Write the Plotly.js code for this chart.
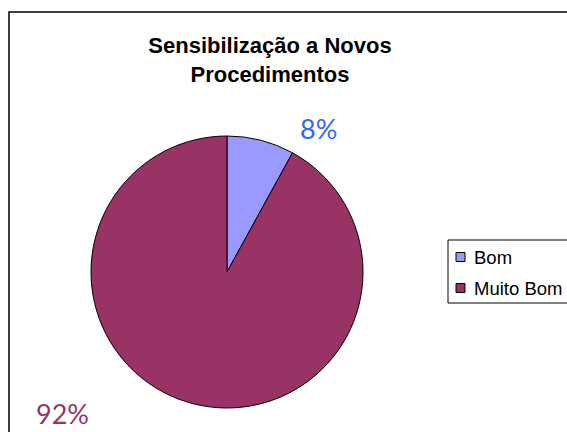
<!DOCTYPE html>
<html>
<head>
<meta charset="utf-8">
<script src="https://cdn.plot.ly/plotly-3.0.1.min.js"></script>
<style>html,body{margin:0;padding:0;background:#fff;}</style>
</head>
<body>
<div id="chart" style="width:567px;height:432px;"></div>
<script>
const categories = ["Bom", "Muito Bom"];
const values = [8, 92];
const sliceColors = ["#9999FF", "#993366"];
const labelColors = ["#3366FF", "#993366"];

const W = 567, H = 432;
const total = values.reduce((a, b) => a + b, 0);
const pctText = values.map(v => Math.round(v / total * 100) + "%");

const trace = {
  type: "pie",
  labels: categories,
  values: values,
  sort: false,
  direction: "clockwise",
  rotation: 0,
  textinfo: "none",
  hoverinfo: "label+percent",
  marker: { colors: sliceColors, line: { color: "#000000", width: 1 } },
  domain: { x: [91 / W, 363 / W], y: [(H - 408) / H, (H - 136) / H] },
  showlegend: false
};

const px = (x) => x / W;
const py = (y) => 1 - y / H;

// percentage labels
const labelPos = [[318, 128], [62, 413]];
const annotations = pctText.map((t, i) => ({
  text: t,
  xref: "paper", yref: "paper",
  x: px(labelPos[i][0]), y: py(labelPos[i][1]),
  xanchor: "center", yanchor: "middle",
  showarrow: false,
  font: { family: "Lato, 'Open Sans', sans-serif", size: 27, color: labelColors[i] }
}));

// hand-built legend (matches the Excel-style legend box)
const legendTop = 240, legendBottom = 303, legendLeft = 448;
const rowY = [257, 288];
const shapes = [
  {
    type: "rect", xref: "paper", yref: "paper",
    x0: px(9), x1: 1.05, y0: -0.05, y1: py(12),
    line: { color: "#000000", width: 1.5 }, fillcolor: "rgba(0,0,0,0)", layer: "above"
  },
  {
    type: "rect", xref: "paper", yref: "paper",
    x0: px(legendLeft), x1: 1.05, y0: py(legendBottom), y1: py(legendTop),
    line: { color: "#000000", width: 1 }, fillcolor: "#ffffff", layer: "above"
  }
];
categories.forEach((c, i) => {
  shapes.push({
    type: "rect", xref: "paper", yref: "paper",
    x0: px(456), x1: px(465), y0: py(rowY[i] + 4.5), y1: py(rowY[i] - 4.5),
    line: { color: "#000000", width: 1 }, fillcolor: sliceColors[i], layer: "above"
  });
  annotations.push({
    text: c,
    xref: "paper", yref: "paper",
    x: px(472), y: py(rowY[i]),
    xanchor: "left", yanchor: "middle",
    showarrow: false,
    font: { family: "Liberation Sans, Arial, sans-serif", size: 18.5, color: "#000000" }
  });
});

const layout = {
  width: W, height: H,
  margin: { l: 0, r: 0, t: 0, b: 0 },
  paper_bgcolor: "#ffffff",
  title: {
    text: "<b>Sensibilização a Novos<br>Procedimentos</b>",
    font: { family: "Liberation Sans, Arial, sans-serif", size: 22, color: "#000000" },
    x: 270 / W, xanchor: "center",
    y: 1 - 53 / H, yanchor: "top", yref: "container"
  },
  showlegend: false,
  annotations: annotations,
  shapes: shapes
};

Plotly.newPlot("chart", [trace], layout, { displayModeBar: false, staticPlot: true });
</script>
</body>
</html>
